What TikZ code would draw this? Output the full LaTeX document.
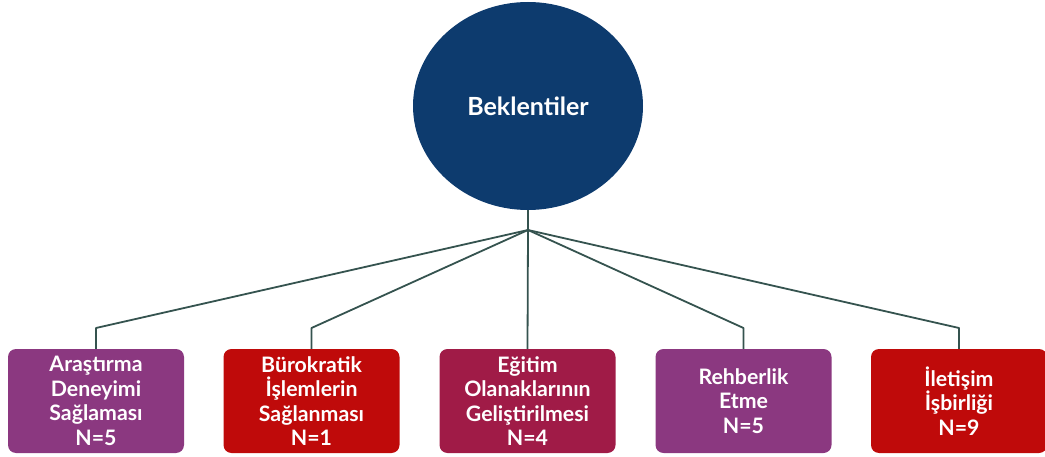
\documentclass[tikz,border=0pt]{standalone}
\usepackage{fontspec}
\setmainfont{Lato}
\usetikzlibrary{shapes.geometric}
\definecolor{mor}{HTML}{8B3880}
\definecolor{kirmizi}{HTML}{BF0A0A}
\definecolor{bordo}{HTML}{A01B47}
\definecolor{lacivert}{HTML}{0D3B6E}
\definecolor{hat}{HTML}{35534F}
\tikzset{
  kutu/.style={rectangle, rounded corners=8pt, minimum width=176pt, minimum height=104pt,
    text width=172pt, align=center, text=white, inner sep=0pt,
    font=\bfseries\fontsize{21.3}{24.5}\selectfont},
  bag/.style={draw=hat, line width=1.8pt}
}
\begin{document}
\begin{tikzpicture}[x=1pt,y=-1pt]
    \useasboundingbox (0,0) rectangle (1045,457);
    \node[ellipse, fill=lacivert, minimum width=230pt, minimum height=208pt, inner sep=0pt,
      text=white, font=\bfseries\fontsize{25}{30}\selectfont] (B) at (528,106) {Beklentiler};
    \coordinate (M) at (528,230);
    \node[kutu, fill=mor] (K1) at (96,401) {Araştırma\\Deneyimi\\Sağlaması\\N=5};
    \node[kutu, fill=kirmizi] (K2) at (311.5,401) {Bürokratik\\İşlemlerin\\Sağlanması\\N=1};
    \node[kutu, fill=bordo] (K3) at (527.5,401) {Eğitim\\Olanaklarının\\Geliştirilmesi\\N=4};
    \node[kutu, fill=mor] (K4) at (743.5,401) {Rehberlik\\Etme\\N=5};
    \node[kutu, fill=kirmizi] (K5) at (959,401) {İletişim\\İşbirliği\\N=9};
    \draw[bag] (B.south) -- (M);
    \foreach \k in {K1,K2,K4,K5}
      \draw[bag, line join=round] (M) -- (\k.north |- 0,328) -- (\k.north);
    \draw[bag] (M) -- (K3.north);
\end{tikzpicture}
\end{document}
